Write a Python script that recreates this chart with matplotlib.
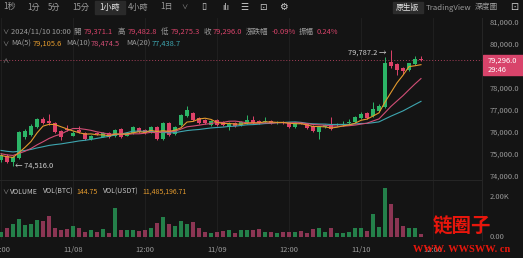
import numpy as np
import pandas as pd
import matplotlib.pyplot as plt
from matplotlib.patches import Rectangle

plt.rcParams['font.family'] = ['Noto Sans CJK TC', 'DejaVu Sans']

# hourly candles, 2024-11-07 12:00 .. 2024-11-10 10:00
start = pd.Timestamp('2024-11-07 12:00')
opens = [74780, 74950, 74700, 74880, 75820, 75900, 76280, 76640, 76550, 76450,
         76090, 76200, 75880, 76140, 76000, 75750, 76000, 75820, 76000, 75860,
         76180, 75880, 76000, 76230, 76140, 76050, 76270, 75730, 76450, 75950,
         76360, 76770, 76910, 76680, 76590, 76360, 76590, 76500, 76270, 76450,
         76360, 76450, 76590, 76550, 76500, 76550, 76480, 76500, 76450, 76270,
         76450, 76420, 76320, 76050, 76270, 76360, 76360, 76360, 76450, 76500,
         76680, 76910, 76770, 77000, 77180, 79230, 79140, 78950, 78860, 79140,
         79371.1]
highs = [75100, 75050, 74950, 76100, 76200, 76400, 76700, 76720, 76860, 76500,
         76150, 76350, 76100, 76320, 76050, 75900, 76050, 76050, 76050, 76180,
         76220, 76050, 76300, 76280, 76180, 76320, 76300, 76500, 76480, 76300,
         76860, 77230, 76950, 76720, 76620, 76600, 76640, 76550, 76500, 76500,
         76550, 76800, 76770, 76590, 76730, 76590, 76550, 76540, 76500, 76500,
         76480, 76450, 76350, 76300, 76400, 76730, 76450, 76550, 76640, 76780,
         76950, 76950, 77410, 77300, 79450, 79787.2, 79200, 79000, 79200, 79480,
         79482.8]
lows = [74700, 74650, 74516, 74800, 75750, 75850, 76250, 76400, 76380, 76000,
        75680, 76100, 75850, 76000, 75700, 75700, 75900, 75800, 75780, 75830,
        75780, 75850, 75950, 76000, 75950, 76000, 75700, 75700, 75860, 75900,
        76300, 76730, 76550, 76400, 76400, 76320, 76320, 76320, 76150, 76280,
        76320, 76420, 76420, 76400, 76470, 76400, 76430, 76420, 76230, 76230,
        76400, 76200, 76050, 75730, 76230, 76150, 76320, 76320, 76400, 76450,
        76640, 76640, 76730, 76950, 77150, 78950, 78640, 78700, 78820, 79100,
        79275.3]
closes = [75000, 74700, 74900, 76050, 76100, 76320, 76640, 76460, 76450, 76050,
          75820, 76150, 76000, 76050, 75730, 75860, 75950, 76000, 75820, 76140,
          75820, 76000, 76270, 76050, 76000, 76270, 75750, 76450, 75900, 76270,
          76820, 77050, 76590, 76450, 76450, 76550, 76360, 76360, 76450, 76320,
          76500, 76590, 76450, 76450, 76560, 76450, 76500, 76450, 76270, 76450,
          76430, 76239, 76090, 76270, 76360, 76180, 76410, 76400, 76490, 76730,
          76860, 76680, 77090, 77217, 79180, 79050, 78860, 78822, 79180, 79370,
          79296.0]
volumes = [250, 415, 617, 883, 583, 617, 833, 783, 1050, 417,
           333, 367, 550, 417, 250, 333, 250, 367, 167, 1417,
           333, 333, 333, 283, 333, 417, 667, 967, 617, 550,
           783, 617, 750, 417, 250, 167, 250, 283, 333, 167,
           333, 333, 333, 367, 250, 217, 167, 217, 217, 250,
           283, 167, 367, 417, 217, 450, 167, 167, 250, 450,
           450, 283, 1117, 500, 2417, 1617, 917, 550, 417, 417,
           144.75]
# closes before the visible window (needed for the moving averages)
prev_closes = [75500, 75450, 75400, 75450, 75350, 75300, 75350, 75250, 75300, 75200,
               75250, 75150, 75100, 75150, 75050, 75000, 75050, 74950, 74900]

price_ticks = [81000, 80000, 78000, 77000, 76000, 75000, 74000]
tick_times = ['2024-11-07 12:00', '2024-11-08 00:00', '2024-11-08 12:00', '2024-11-09 00:00',
              '2024-11-09 12:00', '2024-11-10 00:00', '2024-11-10 12:00']
tick_labels = ['12:00', '11/08', '12:00', '11/09', '12:00', '11/10', '12:00']

BG = '#141414'
GREEN = '#2cb567'
RED = '#de4269'
VGREEN = '#24804a'
VRED = '#8b3553'
GRID = '#222222'
GRAY = '#9a9a9a'
C_MA5, C_MA10, C_MA20 = '#e39a2d', '#d24e76', '#3ea6b0'

W, H = 523, 258
fig = plt.figure(figsize=(W / 100, H / 100), dpi=100, facecolor=BG)


def T(x, y, s, color=GRAY, size=5.4, ha='left', **kw):
    fig.text(x / W, 1 - y / H, s, color=color, fontsize=size, ha=ha, va='center', **kw)


ax = fig.add_axes([0, 1 - 180 / H, 482 / W, 162 / H], facecolor=BG)
vax = fig.add_axes([0, 1 - 240 / H, 482 / W, 60 / H], facecolor=BG, sharex=ax)

o = np.array(opens); h = np.array(highs); l = np.array(lows); c = np.array(closes)
x = np.arange(len(c))
up = c >= o
cols = np.where(up, GREEN, RED)

all_c = pd.Series(prev_closes + closes)
ma5 = all_c.rolling(5).mean().values[len(prev_closes):]
ma10 = all_c.rolling(10).mean().values[len(prev_closes):]
ma20 = all_c.rolling(20).mean().values[len(prev_closes):]

tick_pos = [(pd.Timestamp(t) - start) / pd.Timedelta(hours=1) for t in tick_times]

for a in (ax, vax):
    for s in a.spines.values():
        s.set_visible(False)
    a.set_yticks([])
    a.tick_params(length=0)
    a.set_xticks(tick_pos)
    a.grid(axis='x', color=GRID, lw=0.6)
    a.set_axisbelow(True)
ax.set_xlim(-0.17, 80.17)
ax.set_ylim(73864, 81227)
ax.tick_params(labelbottom=False)
vax.set_ylim(-165, 2835)
vax.set_xticklabels(tick_labels, color=GRAY, fontsize=5.4)
vax.tick_params(pad=4.5)

# candles
ax.vlines(x, l, h, colors=cols, lw=0.7, zorder=3)
ax.bar(x, np.maximum(np.abs(c - o), 10), bottom=np.minimum(o, c), width=0.62,
       color=cols, zorder=4)
ax.plot(x, ma20, color=C_MA20, lw=0.8, zorder=5)
ax.plot(x, ma10, color=C_MA10, lw=0.8, zorder=5)
ax.plot(x, ma5, color=C_MA5, lw=0.8, zorder=5)
ax.axhline(closes[-1], color='#a8405a', lw=0.7, ls=(0, (1, 2)), zorder=2)

# high / low markers
hi = int(np.argmax(h)); lo = int(np.argmin(l))
ax.annotate(f'{h[hi]:,.1f} →', (hi - 0.7, h[hi] - 120), ha='right', va='center',
            color='#cfcfcf', fontsize=5.4)
ax.annotate(f'← {l[lo]:,.1f}', (lo + 0.3, l[lo]), ha='left', va='center',
            color='#cfcfcf', fontsize=5.4)

# price scale
for p in price_ticks:
    ax.text(1.0166, p, f'{p:,.1f}', transform=ax.get_yaxis_transform(), color=GRAY,
            fontsize=5.4, va='center', clip_on=False)
fig.patches.append(Rectangle((483 / W, 1 - 75 / H), 40 / W, 20 / H,
                             transform=fig.transFigure, color='#d8446b'))
T(488, 61, f'{closes[-1]:,.1f}', color='white')
T(488, 70, '29:46', color='white')

# volume
vcols = np.where(up, VGREEN, VRED)
vax.bar(x, volumes, width=0.72, color=vcols)
vax.text(1.0166, 2000, '2.00K', transform=vax.get_yaxis_transform(), color=GRAY,
         fontsize=5.4, va='center', clip_on=False)
vax.text(1.0166, 0, '0.00', transform=vax.get_yaxis_transform(), color=GRAY,
         fontsize=5.4, va='center', clip_on=False)

# frame lines
fig.add_artist(plt.Line2D([0, 482 / W], [1 - 180 / H] * 2, color='#262626', lw=0.7))
fig.add_artist(plt.Line2D([482 / W] * 2, [1 - 240 / H, 1 - 18 / H], color='#262626', lw=0.7))

# toolbar
fig.patches.append(Rectangle((95 / W, 1 - 14 / H), 30 / W, 13 / H,
                             transform=fig.transFigure, color='#2a2a2a'))
fig.patches.append(Rectangle((393 / W, 1 - 13 / H), 30 / W, 11 / H,
                             transform=fig.transFigure, color='#2c2c2c'))
for xx, s in [(3, '1秒'), (27, '1分'), (48, '5分'), (72, '15分'), (99, '1小時'),
              (128, '4小時'), (160, '1日')]:
    T(xx, 7, s, color='#e6e6e6' if s == '1小時' else GRAY, size=5.8)
T(181, 7, '∨', size=4.5)
T(201, 7, '▯', size=6.5, color='#cfcfcf')
T(222, 7, 'ılı', size=6, color='#cfcfcf')
T(240, 7, '☰', size=6.5, color='#cfcfcf')
T(259, 7, '⊡', size=6.5, color='#cfcfcf')
T(279, 7, '⚙', size=7, color='#cfcfcf')
T(396, 7.5, '原生版', color='#e6e6e6', size=5.6)
T(426, 7.5, 'TradingView', size=5.6)
T(475, 7.5, '深度圖', size=5.6)
T(510, 7.5, '⊡', size=7, color='#cfcfcf')

# info lines
RV = '#d8436a'
T(2, 32, '∨', size=4.5)
T(11, 32, '2024/11/10 10:00')
T(73, 32, '開'); T(84, 32, f'{opens[-1]:,.1f}', color=RV)
T(118, 32, '高'); T(128, 32, f'{highs[-1]:,.1f}', color=RV)
T(161, 32, '低'); T(171, 32, f'{lows[-1]:,.1f}', color=RV)
T(204, 32, '收'); T(213, 32, f'{closes[-1]:,.1f}', color=RV)
T(246, 32, '漲跌幅'); T(272, 32, '-0.09%', color=RV)
T(299, 32, '振幅'); T(317, 32, '0.24%', color=RV)

T(2, 44, '∨', size=4.5)
T(11, 44, 'MA(5)'); T(33, 44, f'{ma5[-1]:,.1f}', color=C_MA5)
T(66, 44, 'MA(10)'); T(91, 44, f'{ma10[-1]:,.1f}', color=C_MA10)
T(126, 44, 'MA(20)'); T(152, 44, f'{ma20[-1]:,.1f}', color=C_MA20)
T(2, 61, '∧', size=4.5)

T(2, 192, '∨', size=4.5)
T(10, 192, 'VOLUME', color='#c8c8c8', size=5)
T(43, 192, 'VOL(BTC)', color='#c8c8c8', size=5)
T(76, 192, f'{volumes[-1]:.2f}', color=C_MA5, size=5)
T(103, 192, 'VOL(USDT)', color='#c8c8c8', size=5)
T(142, 192, '11,485,196.71', color=C_MA5, size=5)

# watermark
fig.text(462 / W, 1 - 227 / H, '链圈子', color='#e8160c', fontsize=14, ha='center',
         va='center', fontweight='bold', family=['Noto Sans CJK SC', 'DejaVu Sans'])
fig.text(462 / W, 1 - 250 / H, 'WWW. WWSWW. cn', color='#e8160c', fontsize=7.5,
         ha='center', va='center', fontweight='bold', family='Liberation Serif')

fig.savefig('out.png', dpi=100, facecolor=BG)
